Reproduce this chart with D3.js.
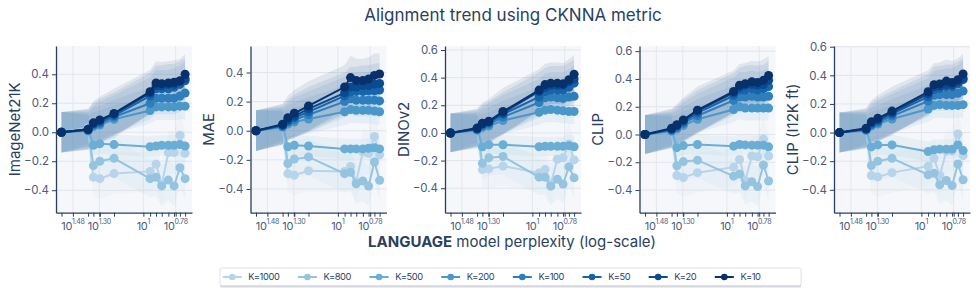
<!DOCTYPE html>
<html>
<head>
<meta charset="utf-8">
<script src="https://cdn.jsdelivr.net/npm/d3@7"></script>
<style>
  body { margin: 0; background: #fff; }
  svg { display: block; font-family: Inter, "Open Sans", sans-serif; }
</style>
</head>
<body>
<svg id="chart" width="976" height="293"></svg>
<script>
// ---- data ----
const kLabels = ["K=1000", "K=800", "K=500", "K=200", "K=100", "K=50", "K=20", "K=10"];
const perplexity = [36.1, 23.8, 21.9, 19.8, 15.85, 9.0, 8.2, 7.5, 6.76, 6.18, 5.64, 5.2];
const panelNames = ["ImageNet21K", "MAE", "DINOv2", "CLIP", "CLIP (I12K ft)"];

// rows follow kLabels order
const imagenet21k = [
  [0, 0.03, -0.31, -0.32, -0.285, -0.27, -0.22, -0.36, -0.14, -0.14, -0.02, -0.145],
  [0, 0.025, -0.23, -0.20, -0.18, -0.32, -0.31, -0.37, -0.33, -0.37, -0.245, -0.32],
  [0, 0.02, -0.09, -0.08, -0.085, -0.10, -0.095, -0.09, -0.09, -0.09, -0.085, -0.095],
  [0, 0.01, 0.04, 0.05, 0.09, 0.15, 0.175, 0.175, 0.175, 0.175, 0.18, 0.18],
  [0, 0.015, 0.05, 0.06, 0.105, 0.20, 0.235, 0.235, 0.235, 0.235, 0.25, 0.27],
  [0, 0.015, 0.055, 0.07, 0.115, 0.25, 0.30, 0.30, 0.30, 0.31, 0.33, 0.355],
  [0, 0.02, 0.06, 0.08, 0.125, 0.27, 0.32, 0.32, 0.33, 0.33, 0.35, 0.37],
  [0, 0.02, 0.065, 0.085, 0.13, 0.28, 0.34, 0.335, 0.34, 0.345, 0.355, 0.40]
];
const mae = [
  [0, 0.045, -0.295, -0.305, -0.275, -0.28, -0.245, -0.35, -0.145, -0.155, -0.04, -0.165],
  [0, 0.04, -0.225, -0.195, -0.18, -0.295, -0.285, -0.365, -0.345, -0.38, -0.215, -0.34],
  [0, 0.035, -0.11, -0.10, -0.105, -0.125, -0.125, -0.125, -0.125, -0.12, -0.117, -0.125],
  [0, 0.025, 0.045, 0.06, 0.08, 0.13, 0.145, 0.14, 0.14, 0.14, 0.135, 0.13],
  [0, 0.03, 0.06, 0.075, 0.11, 0.20, 0.22, 0.21, 0.21, 0.21, 0.21, 0.205],
  [0, 0.035, 0.065, 0.09, 0.13, 0.24, 0.265, 0.27, 0.27, 0.275, 0.275, 0.28],
  [0, 0.04, 0.075, 0.10, 0.15, 0.26, 0.30, 0.30, 0.31, 0.31, 0.32, 0.325],
  [0, 0.045, 0.09, 0.12, 0.17, 0.30, 0.365, 0.345, 0.345, 0.355, 0.38, 0.39]
];
const dinov2 = [
  [0, 0.03, -0.265, -0.26, -0.24, -0.29, -0.265, -0.37, -0.19, -0.18, -0.08, -0.195],
  [0, 0.03, -0.22, -0.18, -0.17, -0.32, -0.32, -0.385, -0.335, -0.37, -0.245, -0.325],
  [0, 0.03, -0.10, -0.085, -0.085, -0.10, -0.097, -0.097, -0.097, -0.097, -0.092, -0.10],
  [0, 0.02, 0.04, 0.05, 0.09, 0.15, 0.165, 0.17, 0.165, 0.16, 0.155, 0.155],
  [0, 0.025, 0.05, 0.065, 0.115, 0.22, 0.255, 0.26, 0.255, 0.25, 0.26, 0.265],
  [0, 0.03, 0.06, 0.075, 0.135, 0.26, 0.30, 0.31, 0.31, 0.31, 0.33, 0.36],
  [0, 0.03, 0.065, 0.08, 0.145, 0.30, 0.33, 0.345, 0.345, 0.345, 0.37, 0.39],
  [0, 0.035, 0.07, 0.085, 0.155, 0.31, 0.35, 0.36, 0.36, 0.355, 0.385, 0.425]
];
const clip = [
  [0, 0.04, -0.295, -0.31, -0.275, -0.235, -0.18, -0.33, -0.155, -0.16, -0.035, -0.155],
  [0, 0.035, -0.225, -0.195, -0.185, -0.30, -0.285, -0.37, -0.34, -0.375, -0.22, -0.335],
  [0, 0.03, -0.095, -0.08, -0.072, -0.084, -0.072, -0.075, -0.077, -0.077, -0.077, -0.089],
  [0, 0.025, 0.04, 0.065, 0.11, 0.18, 0.20, 0.19, 0.19, 0.19, 0.19, 0.19],
  [0, 0.03, 0.05, 0.08, 0.135, 0.245, 0.27, 0.27, 0.275, 0.27, 0.27, 0.275],
  [0, 0.035, 0.06, 0.09, 0.155, 0.28, 0.32, 0.32, 0.33, 0.32, 0.33, 0.345],
  [0, 0.04, 0.065, 0.10, 0.17, 0.30, 0.34, 0.355, 0.36, 0.355, 0.36, 0.39],
  [0, 0.045, 0.07, 0.105, 0.175, 0.31, 0.355, 0.365, 0.38, 0.375, 0.39, 0.425]
];
const clipFt = [
  [0, 0.025, -0.30, -0.31, -0.28, -0.235, -0.18, -0.30, -0.13, -0.13, -0.01, -0.16],
  [0, 0.02, -0.23, -0.20, -0.18, -0.295, -0.285, -0.365, -0.335, -0.37, -0.22, -0.33],
  [0, 0.02, -0.10, -0.086, -0.086, -0.133, -0.12, -0.116, -0.116, -0.116, -0.086, -0.126],
  [0, 0.015, 0.045, 0.06, 0.095, 0.165, 0.19, 0.195, 0.19, 0.19, 0.19, 0.195],
  [0, 0.02, 0.055, 0.07, 0.115, 0.22, 0.26, 0.265, 0.265, 0.265, 0.275, 0.29],
  [0, 0.025, 0.06, 0.08, 0.13, 0.25, 0.30, 0.31, 0.32, 0.32, 0.34, 0.37],
  [0, 0.025, 0.07, 0.09, 0.14, 0.27, 0.32, 0.325, 0.335, 0.335, 0.355, 0.38],
  [0, 0.03, 0.075, 0.10, 0.15, 0.285, 0.335, 0.34, 0.36, 0.35, 0.37, 0.41]
];
// half width of the shaded spread, per K (same for every panel)
const bandHalfWidth = [
  [0.14, 0.12, 0.13, 0.14, 0.14, 0.14, 0.15, 0.15, 0.15, 0.15, 0.16, 0.15],
  [0.14, 0.12, 0.12, 0.13, 0.13, 0.13, 0.13, 0.14, 0.14, 0.14, 0.14, 0.14],
  [0.14, 0.10, 0.07, 0.07, 0.07, 0.07, 0.07, 0.07, 0.07, 0.07, 0.08, 0.08],
  [0.14, 0.11, 0.10, 0.10, 0.10, 0.09, 0.09, 0.09, 0.09, 0.09, 0.09, 0.09],
  [0.14, 0.12, 0.12, 0.12, 0.12, 0.11, 0.11, 0.11, 0.11, 0.11, 0.11, 0.11],
  [0.14, 0.13, 0.13, 0.14, 0.14, 0.13, 0.13, 0.13, 0.13, 0.13, 0.13, 0.13],
  [0.14, 0.14, 0.14, 0.15, 0.15, 0.14, 0.14, 0.14, 0.14, 0.14, 0.14, 0.14],
  [0.14, 0.14, 0.15, 0.16, 0.17, 0.15, 0.15, 0.15, 0.15, 0.15, 0.15, 0.14]
];
const yTickValues = [-0.4, -0.2, 0, 0.2, 0.4, 0.6];
const xTickExponents = [1.48, 1.30, 1, 0.78];
const xTickLabels = ["1.48", "1.30", "1", "0.78"];

// ---- layout / style ----
const panelValues = [imagenet21k, mae, dinov2, clip, clipFt];
const yDomains = [[-0.555, 0.595], [-0.563, 0.582], [-0.577, 0.629], [-0.563, 0.637], [-0.56, 0.605]];
const colors = ["#b7d4ea", "#94c4df", "#6aaed6", "#4a98c9", "#2e7ebc", "#1764ab", "#0a4a90", "#08306b"];
const textColor = "#2a3f5f", tickColor = "#4b5b7b";

const plotTop = 46, plotH = 166.7, plotW = 136, left0 = 56, step = 194.5;

const svg = d3.select("#chart");
const defs = svg.append("defs");

const x = d3.scaleLog()
  .domain([Math.pow(10, 1.595), Math.pow(10, 0.669)])
  .range([0, plotW]);

panelNames.forEach((name, p) => {
  const y = d3.scaleLinear().domain(yDomains[p]).range([plotH, 0]);
  const yt = yTickValues.filter((v) => v >= yDomains[p][0] && v <= yDomains[p][1]);

  const g = svg.append("g").attr("transform", `translate(${left0 + p * step},${plotTop})`);

  defs.append("clipPath").attr("id", "clip" + p)
    .append("rect").attr("width", plotW).attr("height", plotH);

  g.append("rect").attr("width", plotW).attr("height", plotH).attr("fill", "#f5f7fa");

  g.selectAll(".ygrid").data(yt).join("line")
    .attr("class", "ygrid")
    .attr("x1", 0).attr("x2", plotW)
    .attr("y1", (d) => y(d)).attr("y2", (d) => y(d))
    .attr("stroke", "#e1e5eb").attr("stroke-width", 1);

  g.selectAll(".xgrid").data(xTickExponents).join("line")
    .attr("class", "xgrid")
    .attr("x1", (d) => x(Math.pow(10, d))).attr("x2", (d) => x(Math.pow(10, d)))
    .attr("y1", 0).attr("y2", plotH)
    .attr("stroke", "#e4e7ec").attr("stroke-width", 1);

  const series = kLabels.map((k, i) => ({
    k, color: colors[i], values: panelValues[p][i], hw: bandHalfWidth[i]
  }));

  const plot = g.append("g").attr("clip-path", `url(#clip${p})`);

  const area = (s) => d3.area()
    .x((d, i) => x(perplexity[i]))
    .y0((d, i) => y(d - s.hw[i]))
    .y1((d, i) => y(d + s.hw[i]))(s.values);

  plot.selectAll(".band").data(series).join("path")
    .attr("class", "band")
    .attr("d", area)
    .attr("fill", (d) => d.color)
    .attr("fill-opacity", 0.09);

  const line = d3.line().x((d, i) => x(perplexity[i])).y((d) => y(d));

  const sg = plot.selectAll(".series").data(series).join("g").attr("class", "series");
  sg.append("path")
    .attr("d", (d) => line(d.values))
    .attr("fill", "none")
    .attr("stroke", (d) => d.color)
    .attr("stroke-width", 2);
  sg.selectAll("circle").data((d) => d.values.map((v, i) => ({ v, i, color: d.color }))).join("circle")
    .attr("cx", (d) => x(perplexity[d.i]))
    .attr("cy", (d) => y(d.v))
    .attr("r", 4.5)
    .attr("fill", (d) => d.color);

  // axes
  const yAxis = g.append("g")
    .call(d3.axisLeft(y).tickValues(yt).tickSize(4).tickSizeOuter(0).tickPadding(3).tickFormat(d3.format(".1f")));
  yAxis.attr("font-family", null);
  yAxis.selectAll("text").attr("fill", tickColor).attr("font-size", 11.5);
  yAxis.selectAll("line").attr("stroke", textColor);
  yAxis.select(".domain").attr("stroke", textColor).attr("stroke-width", 1.3);

  const xVals = perplexity.concat(xTickExponents.map((e) => Math.pow(10, e)));
  const xAxis = g.append("g")
    .attr("transform", `translate(0,${plotH})`)
    .call(d3.axisBottom(x).tickValues(xVals).tickSize(4).tickSizeOuter(0).tickFormat(""));
  xAxis.selectAll("line").attr("stroke", textColor);
  xAxis.select(".domain").attr("stroke", textColor).attr("stroke-width", 1.3);

  const xl = g.selectAll(".xlab").data(xTickExponents).join("text")
    .attr("class", "xlab")
    .attr("x", (d) => x(Math.pow(10, d)))
    .attr("y", plotH + 17)
    .attr("text-anchor", "middle")
    .attr("fill", tickColor)
    .attr("letter-spacing", -0.3)
    .attr("font-size", 11);
  xl.append("tspan").text("10");
  xl.append("tspan").attr("dy", -5.5).attr("font-size", 7).text((d, i) => xTickLabels[i]);

  g.append("text")
    .attr("transform", `translate(-41.5,${plotH / 2}) rotate(-90)`)
    .attr("text-anchor", "middle")
    .attr("dy", "0.35em")
    .attr("fill", textColor)
    .attr("font-size", 15)
    .text(name);
});

svg.append("text")
  .attr("x", 513).attr("y", 20.5)
  .attr("text-anchor", "middle")
  .attr("fill", textColor)
  .attr("font-size", 17)
  .text("Alignment trend using CKNNA metric");

const xt = svg.append("text")
  .attr("x", 512).attr("y", 247)
  .attr("text-anchor", "middle")
  .attr("fill", textColor)
  .attr("font-size", 15);
xt.append("tspan").attr("font-weight", "bold").text("LANGUAGE");
xt.append("tspan").text(" model perplexity (log-scale)");

// legend
const legend = svg.append("g").attr("transform", "translate(222.7,277)");
const shadow = legend.append("rect");
const box = legend.append("rect");
const items = legend.selectAll(".item").data(kLabels).join("g").attr("class", "item");
items.append("line")
  .attr("x1", 0).attr("x2", 19)
  .attr("stroke", (d, i) => colors[i]).attr("stroke-width", 2);
items.append("circle")
  .attr("cx", 9.5).attr("r", 3.3)
  .attr("fill", (d, i) => colors[i]);
items.append("text")
  .attr("x", 25.6).attr("dy", "0.35em")
  .attr("fill", textColor)
  .attr("font-size", 9.3)
  .attr("letter-spacing", -0.4)
  .text((d) => d);
let cx = 0;
items.each(function () {
  const w = this.getBBox().width;
  d3.select(this).attr("transform", `translate(${cx},0)`);
  cx += w + 18;
});
const boxW = cx - 18 + 40 + 2.7;
shadow.attr("x", -2.7).attr("y", -7.5).attr("width", boxW).attr("height", 18)
  .attr("rx", 1.5).attr("fill", "#d5d8de");
box.attr("x", -2.7).attr("y", -9).attr("width", boxW).attr("height", 17.5)
  .attr("rx", 1.5).attr("fill", "#fff").attr("stroke", "#dde1e7").attr("stroke-width", 1);
</script>
</body>
</html>
